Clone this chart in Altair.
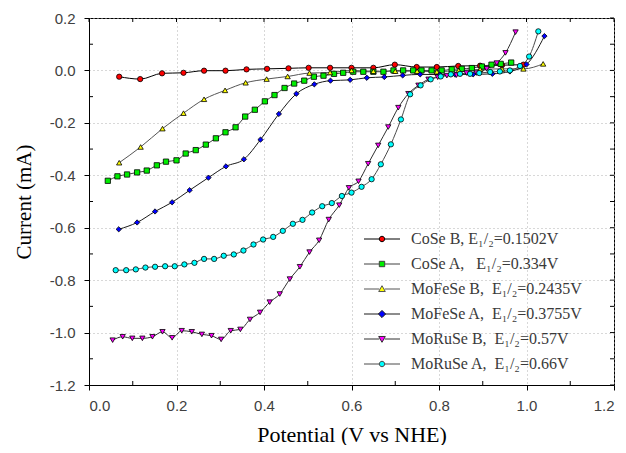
import altair as alt
import pandas as pd

# ---------------- data ----------------
series_names = [
    "CoSe B, E\u2081/\u2082=0.1502V",
    "CoSe A,\u00a0\u00a0 E\u2081/\u2082=0.334V",
    "MoFeSe B,\u00a0 E\u2081/\u2082=0.2435V",
    "MoFeSe A,\u00a0 E\u2081/\u2082=0.3755V",
    "MoRuSe B,\u00a0 E\u2081/\u2082=0.57V",
    "MoRuSe A,\u00a0 E\u2081/\u2082=0.66V",
]

cose_b_x = [0.069, 0.117, 0.167, 0.216, 0.263, 0.312, 0.360, 0.407, 0.456, 0.502, 0.551,
            0.600, 0.650, 0.699, 0.749, 0.795, 0.844, 0.894, 0.944, 0.993]
cose_b_y = [-0.024, -0.033, -0.011, -0.009, -0.001, -0.001, 0.004, 0.006, 0.008, 0.010, 0.010,
            0.010, 0.010, 0.022, 0.013, 0.013, 0.017, 0.018, 0.020, 0.022]

cose_a_x = [0.043, 0.065, 0.087, 0.110, 0.132, 0.155, 0.176, 0.200, 0.221, 0.244, 0.267, 0.290,
            0.312, 0.335, 0.357, 0.379, 0.402, 0.424, 0.447, 0.469, 0.492, 0.514, 0.536, 0.560,
            0.581, 0.604, 0.627, 0.650, 0.673, 0.696, 0.718, 0.741, 0.760, 0.783, 0.806, 0.829,
            0.852, 0.875, 0.898, 0.920, 0.941, 0.965]
cose_a_y = [-0.421, -0.404, -0.397, -0.389, -0.382, -0.362, -0.348, -0.343, -0.317, -0.304, -0.283,
            -0.259, -0.236, -0.217, -0.176, -0.150, -0.118, -0.094, -0.067, -0.050, -0.039, -0.024,
            -0.020, -0.013, -0.009, -0.005, -0.005, -0.005, -0.005, 0.000, 0.000, 0.000, 0.000,
            0.000, 0.000, 0.004, 0.006, 0.009, 0.015, 0.022, 0.025, 0.030]

mofese_b_x = [0.069, 0.118, 0.168, 0.216, 0.263, 0.311, 0.358, 0.406, 0.454, 0.504, 0.551,
              0.600, 0.650, 0.700, 0.750, 0.795, 0.845, 0.894, 0.944, 0.993, 1.038]
mofese_b_y = [-0.352, -0.292, -0.222, -0.163, -0.110, -0.076, -0.047, -0.033, -0.023, -0.010, -0.008,
              0.000, -0.003, -0.003, -0.003, -0.005, 0.000, 0.004, 0.006, 0.006, 0.025]

mofese_a_x = [0.068, 0.110, 0.151, 0.190, 0.230, 0.273, 0.313, 0.354, 0.392, 0.434, 0.474, 0.515,
              0.552, 0.597, 0.635, 0.675, 0.717, 0.757, 0.802, 0.837, 0.878, 0.922, 0.962, 1.000, 1.041]
mofese_a_y = [-0.606, -0.580, -0.538, -0.503, -0.457, -0.409, -0.366, -0.339, -0.264, -0.166, -0.089,
              -0.053, -0.039, -0.036, -0.028, -0.025, -0.019, -0.015, -0.016, -0.016, -0.015, -0.013,
              -0.004, 0.023, 0.131]

moruse_b_x = [0.054, 0.077, 0.099, 0.122, 0.145, 0.168, 0.190, 0.212, 0.235, 0.258, 0.280, 0.302,
              0.324, 0.346, 0.368, 0.391, 0.413, 0.436, 0.459, 0.482, 0.504, 0.526, 0.548, 0.572,
              0.594, 0.616, 0.638, 0.661, 0.684, 0.707, 0.730, 0.753, 0.776, 0.797, 0.818, 0.840,
              0.863, 0.886, 0.909, 0.932, 0.952, 0.975]
moruse_b_y = [-1.029, -1.016, -1.022, -1.022, -1.016, -0.997, -1.020, -0.993, -0.997, -1.007, -1.012,
              -1.026, -0.993, -0.988, -0.950, -0.923, -0.884, -0.853, -0.796, -0.749, -0.693, -0.648,
              -0.569, -0.514, -0.448, -0.423, -0.356, -0.286, -0.216, -0.142, -0.089, -0.057, -0.034,
              -0.026, -0.020, -0.018, -0.010, -0.010, 0.006, 0.028, 0.067, 0.146]

moruse_a_x = [0.061, 0.085, 0.107, 0.129, 0.151, 0.174, 0.196, 0.218, 0.241, 0.263, 0.286, 0.308,
              0.331, 0.353, 0.376, 0.398, 0.421, 0.443, 0.466, 0.488, 0.510, 0.533, 0.555, 0.578,
              0.600, 0.623, 0.646, 0.667, 0.690, 0.713, 0.734, 0.758, 0.781, 0.804, 0.827, 0.848,
              0.871, 0.892, 0.917, 0.939, 0.962, 0.985, 1.006, 1.027]
moruse_a_y = [-0.762, -0.762, -0.759, -0.752, -0.749, -0.747, -0.747, -0.740, -0.734, -0.719, -0.719,
              -0.707, -0.702, -0.687, -0.664, -0.645, -0.635, -0.612, -0.585, -0.570, -0.542, -0.518,
              -0.506, -0.479, -0.466, -0.444, -0.415, -0.358, -0.282, -0.187, -0.091, -0.057, -0.034,
              -0.023, -0.015, -0.013, -0.013, -0.010, -0.006, -0.004, 0.000, 0.017, 0.053, 0.149]

x_tick_values = [0.0, 0.1, 0.2, 0.3, 0.4, 0.5, 0.6, 0.7, 0.8, 0.9, 1.0, 1.1, 1.2]
y_tick_values = [-1.2, -1.1, -1.0, -0.9, -0.8, -0.7, -0.6, -0.5, -0.4, -0.3, -0.2, -0.1, 0.0, 0.1, 0.2]
x_minor_values = [0.1, 0.3, 0.5, 0.7, 0.9, 1.1]
y_minor_values = [-1.1, -0.9, -0.7, -0.5, -0.3, -0.1, 0.1]

# ---------------- styling ----------------
W, H = 525, 367
fill_colors = ["#ff0000", "#00ee00", "#ffff00", "#0000ff", "#ff00ff", "#00ffff"]
line_colors = ["#000000", "#404040", "#555555", "#1a1a1a", "#303030", "#4a4a4a"]
point_shapes = ["circle", "square", "triangle-up", "diamond", "triangle-down", "circle"]

seg = "M-3,0H-0.45M0.45,0H3"
legend_paths = [
    seg + "M0.45,0A0.45,0.45 0 1,1 -0.45,0A0.45,0.45 0 1,1 0.45,0Z",
    seg + "M-0.45,-0.45H0.45V0.45H-0.45Z",
    seg + "M0,-0.55L0.55,0.42L-0.55,0.42Z",
    seg + "M0,-0.6L0.6,0L0,0.6L-0.6,0Z",
    seg + "M0,0.55L0.55,-0.42L-0.55,-0.42Z",
    seg + "M0.45,0A0.45,0.45 0 1,1 -0.45,0A0.45,0.45 0 1,1 0.45,0Z",
]

all_x = [cose_b_x, cose_a_x, mofese_b_x, mofese_a_x, moruse_b_x, moruse_a_x]
all_y = [cose_b_y, cose_a_y, mofese_b_y, mofese_a_y, moruse_b_y, moruse_a_y]
rows = []
for name, xs_, ys_ in zip(series_names, all_x, all_y):
    for i, (xv, yv) in enumerate(zip(xs_, ys_)):
        rows.append({"series": name, "x": xv, "y": yv, "i": i})
df = pd.DataFrame(rows)

is_minor = "abs(round(datum.value*10))%2==1"
label_expr = ("abs(round(datum.value*10))%2==1 ? '' : "
              "replace(format(datum.value, '.1f'), '\u2212', '-')")

x_scale = alt.Scale(domain=[0, 1.2], nice=False, zero=False)
y_scale = alt.Scale(domain=[-1.2, 0.2], nice=False, zero=False)

axis_text = dict(
    labelFont="Liberation Sans", labelFontSize=15, labelColor="#404040",
    titleFont="Liberation Serif", titleFontWeight="normal", titleColor="black",
)

x_axis_main = alt.Axis(
    values=x_tick_values, labelExpr=label_expr, title="Potential (V vs NHE)", orient="bottom",
    grid=True, gridOpacity={"condition": {"test": is_minor, "value": 0}, "value": 1},
    tickSize={"condition": {"test": is_minor, "value": 0}, "value": 5},
    labelPadding=8, titlePadding=11, titleFontSize=22, **axis_text,
)
y_axis_main = alt.Axis(
    values=y_tick_values, labelExpr=label_expr, title="Current (mA)", orient="left",
    grid=True, gridOpacity={"condition": {"test": is_minor, "value": 0}, "value": 1},
    tickSize={"condition": {"test": is_minor, "value": 0}, "value": 5},
    labelPadding=9, titlePadding=15, titleFontSize=21, **axis_text,
)

base = alt.Chart(df)

lines = base.mark_line(interpolate="monotone", strokeWidth=1).encode(
    x=alt.X("x:Q", scale=x_scale, axis=x_axis_main),
    y=alt.Y("y:Q", scale=y_scale, axis=y_axis_main),
    stroke=alt.Stroke("series:N", scale=alt.Scale(domain=series_names, range=line_colors), legend=None),
    order="i:Q",
    detail="series:N",
)

points = base.mark_point(filled=True, opacity=1).encode(
    x=alt.X("x:Q"),
    y=alt.Y("y:Q"),
    fill=alt.Fill("series:N", scale=alt.Scale(domain=series_names, range=fill_colors), legend=None),
    shape=alt.Shape("series:N", scale=alt.Scale(domain=series_names, range=point_shapes), legend=None),
    stroke=alt.value("black"),
    strokeWidth=alt.value(0.8),
    size=alt.value(28),
)

legend_props = dict(
    title=None, orient="none", legendX=285, legendY=213,
    symbolSize=144, symbolStrokeWidth=1,
    labelFont="Liberation Serif", labelFontSize=16, labelColor="#3a3a3a",
    labelOffset=21, rowPadding=9, padding=0, labelLimit=300,
)

# legend-only layer (no rows): fill + stroke + shape merge into one legend
legend_layer = base.transform_filter("false").mark_point(filled=False, opacity=1).encode(
    x=alt.X("x:Q"),
    y=alt.Y("y:Q"),
    fill=alt.Fill("series:N", scale=alt.Scale(domain=series_names, range=fill_colors),
                  legend=alt.Legend(**legend_props)),
    stroke=alt.Stroke("series:N", scale=alt.Scale(domain=series_names, range=line_colors),
                      legend=alt.Legend(**legend_props)),
    shape=alt.Shape("series:N", scale=alt.Scale(domain=series_names, range=legend_paths),
                    legend=alt.Legend(**legend_props)),
    strokeWidth=alt.value(1),
)

# frame ticks: inward ticks on top/right, inward minor ticks on bottom/left
xt = alt.Chart(pd.DataFrame({"x": x_tick_values}))
yt = alt.Chart(pd.DataFrame({"y": y_tick_values}))
xm = alt.Chart(pd.DataFrame({"x": x_minor_values}))
ym = alt.Chart(pd.DataFrame({"y": y_minor_values}))

tick_style = dict(size=4, thickness=1, color="black", opacity=1)
top_ticks = xt.mark_tick(orient="vertical", **tick_style).encode(x=alt.X("x:Q"), y=alt.value(2))
bottom_minor = xm.mark_tick(orient="vertical", **tick_style).encode(x=alt.X("x:Q"), y=alt.value(H - 2))
right_ticks = yt.mark_tick(orient="horizontal", **tick_style).encode(y=alt.Y("y:Q"), x=alt.value(W - 2))
left_minor = ym.mark_tick(orient="horizontal", **tick_style).encode(y=alt.Y("y:Q"), x=alt.value(2))

chart = alt.layer(
    lines, top_ticks, bottom_minor, right_ticks, left_minor, points, legend_layer
).resolve_scale(
    shape="independent", fill="independent", stroke="independent"
).properties(
    width=W, height=H,
    autosize=alt.AutoSizeParams(type="none"),
    padding={"left": 81, "top": 10, "right": 4, "bottom": 60},
).configure_view(
    stroke="black", strokeWidth=1
).configure_axis(
    domainColor="black", tickColor="black", tickWidth=1,
    labelFont="Liberation Sans", labelFontSize=15, labelColor="#404040",
    titleFont="Liberation Serif", titleFontWeight="normal", titleColor="black",
    gridColor="#b0b0b0", gridDash=[1, 3], gridWidth=1,
).configure_legend(
    orient="none"
)

chart.save("out.html", embed_options={"renderer": "svg", "actions": False})
